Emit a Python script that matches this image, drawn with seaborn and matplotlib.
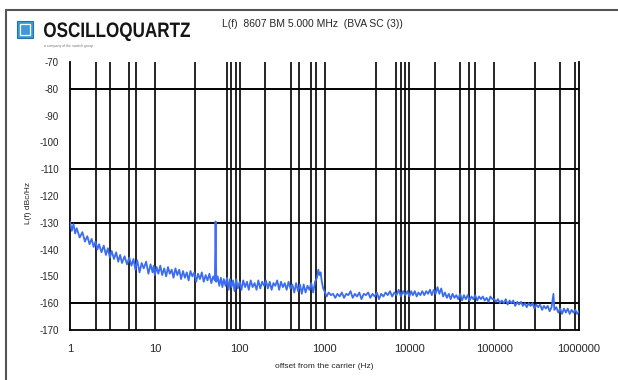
import numpy as np
import pandas as pd
import matplotlib
matplotlib.use("Agg")
import matplotlib.pyplot as plt
import seaborn as sns
from matplotlib.patches import Rectangle, PathPatch
from matplotlib.lines import Line2D
from matplotlib.textpath import TextPath
from matplotlib.font_manager import FontProperties
from matplotlib.transforms import Affine2D


# Phase noise, one decade at a time (offset Hz / dBc/Hz)
f_d1 = [1.0, 1.05, 1.1, 1.15, 1.2, 1.3, 1.4, 1.5, 1.6, 1.7, 1.8, 1.9, 2.0, 2.1, 2.2, 2.35,
        2.5, 2.65, 2.8, 2.95, 3.1, 3.3, 3.5, 3.7, 3.9, 4.1, 4.4, 4.7, 5.0, 5.3, 5.6, 5.9,
        6.2, 6.6, 7.0, 7.4, 7.9, 8.4, 8.9, 9.4, 9.7]
l_d1 = [-129.5, -133, -130.5, -134, -132, -135.5, -133.5, -137, -135, -138, -136, -139,
        -137, -140, -138, -141, -138.5, -142, -139.5, -143, -140.5, -143.5, -141, -144.5,
        -142, -145, -142.5, -145.5, -143, -146, -143.5, -147.5, -144, -148.5, -145, -147,
        -144.5, -149, -145.5, -148.5, -146]

f_d2 = [10, 10.5, 11, 11.6, 12.2, 12.9, 13.6, 14.3, 15, 15.8, 16.6, 17.5, 18.4, 19.4,
        20.4, 21.5, 22.6, 23.8, 25, 26.3, 27.7, 29.2, 30.7, 32.3, 34, 35.8, 37.7, 39.7,
        41.8, 44, 46.3, 48.7, 51, 52, 53, 55, 57.5, 60, 62.5, 65, 68, 71, 74, 77, 80,
        83.5, 87, 91, 95]
l_d2 = [-149.5, -146.5, -149, -146, -149.5, -147, -150, -146.5, -149, -147.5, -150.5,
        -147, -149.5, -147.5, -151, -148, -150.5, -148.5, -151.5, -148, -150, -148.5,
        -152, -149, -151, -148.5, -152, -149.5, -151.5, -149, -152.5, -150, -151.5,
        -129.5, -152, -150, -153.5, -150.5, -154, -151, -153.5, -150.5, -155, -151,
        -154, -151.5, -155.5, -151, -154.5]

f_d3 = [100, 105, 110, 116, 122, 128, 135, 142, 150, 158, 166, 175, 184, 194, 204, 215,
        226, 238, 250, 263, 277, 292, 307, 323, 340, 358, 377, 397, 418, 440, 463, 487,
        513, 540, 568, 598, 630, 663, 698, 735, 774, 815, 845, 870, 900, 930, 965]
l_d3 = [-152, -155, -151.5, -154, -152, -155, -151.5, -154, -152.5, -155, -151.5,
        -154.5, -152, -153.5, -151.5, -154.5, -152, -155, -152.5, -153.5, -151.5, -155,
        -152, -154, -152.5, -155, -152, -154.5, -153, -156, -152.5, -155.5, -153,
        -156.5, -153, -156, -153.5, -155, -152.5, -156, -152, -150.5, -147.5, -149.5,
        -148.5, -152, -154.5]

f_d4 = [1000, 1060, 1120, 1190, 1260, 1340, 1420, 1510, 1600, 1700, 1800, 1910, 2030,
        2150, 2280, 2420, 2570, 2730, 2900, 3080, 3270, 3470, 3680, 3900, 4140, 4390,
        4660, 4950, 5250, 5570, 5910, 6270, 6650, 7060, 7490, 7950, 8430, 8950, 9490]
l_d4 = [-155.5, -157.5, -156, -157, -156.5, -158, -156.5, -157.5, -156, -158, -156.5,
        -157, -155.5, -158, -156.5, -157.5, -156, -158.5, -156.5, -157, -156, -158,
        -156.5, -157.5, -156, -158.5, -156.5, -157.5, -156, -157, -155.5, -157.5, -156,
        -157, -155, -157.5, -155.5, -157, -155.5]

f_d5 = [10000, 10500, 11000, 11600, 12200, 12800, 13500, 14200, 15000, 15800, 16600,
        17500, 18400, 19400, 20400, 21500, 22600, 23800, 25000, 26300, 27700, 29200,
        30700, 32300, 34000, 35800, 37700, 39700, 41800, 44000, 46300, 48700, 51300,
        54000, 56800, 59800, 63000, 66300, 69800, 73500, 77400, 81500, 85800, 90300, 95100]
l_d5 = [-157.5, -155.5, -157, -155.5, -157.5, -156, -157, -155.5, -157, -155.5, -156.5,
        -155, -157, -155, -156.5, -154, -156.5, -154.5, -157.5, -156, -158, -156.5,
        -158.5, -156.5, -158, -157, -158.5, -156.5, -159, -157, -158.5, -157, -159,
        -157.5, -158.5, -157, -159, -157.5, -158.5, -157.5, -159, -158, -159.5, -157.5,
        -158.5]

f_d6 = [100000, 105000, 111000, 117000, 123000, 130000, 137000, 144000, 152000, 160000,
        168000, 177000, 187000, 197000, 207000, 218000, 230000, 242000, 255000, 268000,
        283000, 298000, 314000, 330000, 348000, 367000, 386000, 407000, 428000, 451000,
        475000, 500000, 512000, 540000, 570000, 600000, 632000, 665000, 700000, 737000,
        776000, 817000, 860000, 905000, 953000, 1000000]
l_d6 = [-158.5, -159.5, -158.5, -160, -159, -160, -158.5, -160.5, -159, -160, -159,
        -161, -159.5, -160.5, -159.5, -161, -160, -161.5, -160, -161, -160, -162,
        -160.5, -161.5, -160.5, -162.5, -161, -162, -161, -163, -161.5, -156.5, -162.5,
        -161.5, -163.5, -162, -164, -162, -163.5, -162, -164, -162.5, -163.5, -162.5,
        -164, -163]

y_ticks = [-70, -80, -90, -100, -110, -120, -130, -140, -150, -160, -170]
x_ticks = [1, 10, 100, 1000, 10000, 100000, 1000000]
x_labels = ["1", "10", "100", "1000", "10000", "100000", "1000000"]

# gridlines that survive in the picture
h_grid = [-80, -110, -130, -160]
v_grid = [2, 3, 5, 6, 10, 30, 70, 80, 90, 100, 200, 400, 500, 700, 800, 1000,
          4000, 7000, 8000, 9000, 10000, 20000, 40000, 50000, 60000, 100000,
          300000, 600000, 900000]

df = pd.concat([pd.DataFrame({"offset": f, "L": l}) for f, l in
                [(f_d1, l_d1), (f_d2, l_d2), (f_d3, l_d3),
                 (f_d4, l_d4), (f_d5, l_d5), (f_d6, l_d6)]], ignore_index=True)

sns.set_style("white")
plt.rcParams["font.family"] = ["Liberation Sans", "DejaVu Sans"]

fig = plt.figure(figsize=(6.18, 3.80), dpi=100)
ax = fig.add_axes([70 / 618, 1 - 330 / 380, 509 / 618, 268 / 380])

for v in v_grid:
    ax.axvline(v, color="black", lw=1.2, zorder=1)
for h in h_grid:
    ax.axhline(h, color="black", lw=1.4, zorder=1)

sns.lineplot(data=df, x="offset", y="L", ax=ax, color="#3b6cf2", lw=1.3,
             errorbar=None, zorder=3)

ax.set_xscale("log")
ax.set_xlim(1, 1000000)
ax.set_ylim(-170, -70)
ax.set_xticks(x_ticks)
ax.set_xticklabels(x_labels, fontsize=8)
ax.xaxis.set_minor_locator(matplotlib.ticker.NullLocator())
ax.set_yticks(y_ticks)
ax.set_yticklabels([str(t) for t in y_ticks], fontsize=7)
ax.tick_params(axis="both", direction="out", length=5, width=1.2, color="black", pad=3)
ax.tick_params(axis="x", pad=5)

for s in ["left", "bottom", "right"]:
    ax.spines[s].set_color("black")
    ax.spines[s].set_linewidth(1.3)
ax.spines["top"].set_visible(False)

ax.set_xlabel("offset from the carrier (Hz)", fontsize=6)
ax.xaxis.set_label_coords(0.5, -0.125)
ax.set_ylabel("")
fig.text(28 / 618, 1 - 203 / 380, "L(f) dBc/Hz", rotation=90, fontsize=6,
         ha="center", va="center")

# frame around the figure (top and left only are visible)
fig.add_artist(Line2D([6 / 618, 1.0], [1 - 10 / 380, 1 - 10 / 380], color="#555555", lw=1.5))
fig.add_artist(Line2D([6 / 618, 6 / 618], [0.0, 1 - 10 / 380], color="#555555", lw=1.5))

# logo
fig.add_artist(Rectangle((17 / 618, 1 - 38 / 380), 16 / 618, 17 / 380,
                         facecolor="#3d9ad6", edgecolor="#2a6fa8", lw=0.8))
fig.add_artist(Rectangle((20 / 618, 1 - 35 / 380), 10 / 618, 11 / 380,
                         facecolor="none", edgecolor="white", lw=0.9))
tp = TextPath((0, 0), "OSCILLOQUARTZ", size=10,
              prop=FontProperties(family="Liberation Sans", weight="bold"))
ext = tp.get_extents()
sx = 146 / ext.width
sy = 15 / 7.16
logo_tr = (Affine2D().translate(-ext.x0, 0).scale(sx / 618, sy / 380)
           .translate(44 / 618, 1 - 37 / 380) + fig.transFigure)
fig.add_artist(PathPatch(tp, transform=logo_tr, facecolor="#151515", edgecolor="none"))
fig.text(44 / 618, 1 - 46 / 380, "a company of the swatch group", fontsize=2.5,
         color="#777777", ha="left", va="center")

fig.text(222 / 618, 1 - 24 / 380, "L(f)  8607 BM 5.000 MHz  (BVA SC (3))",
         fontsize=7.5, ha="left", va="center")

fig.savefig("out.png", dpi=100, facecolor="white")
